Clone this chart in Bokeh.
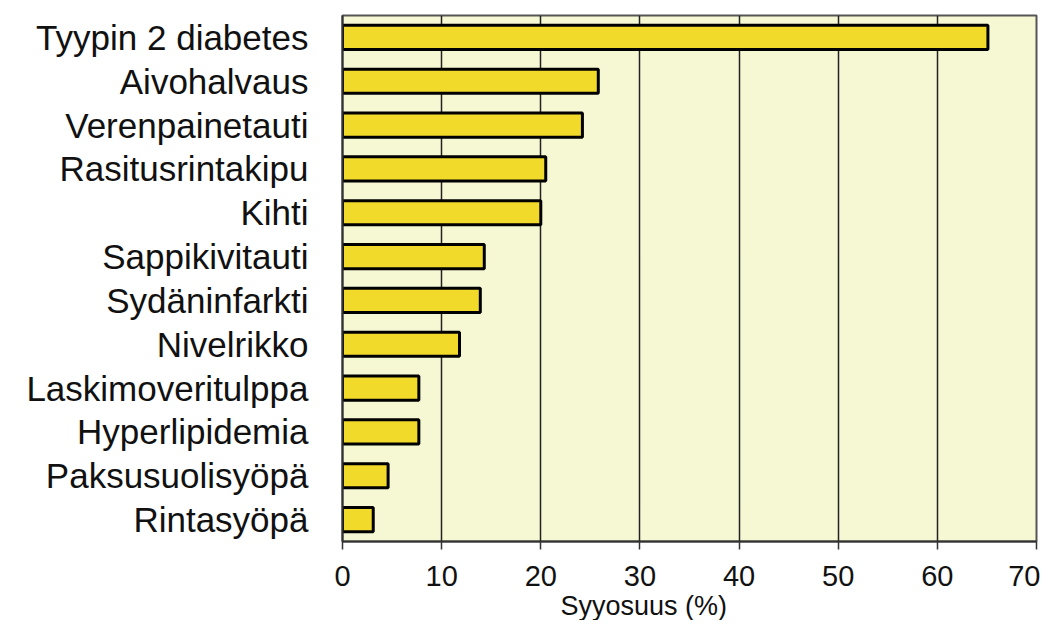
from bokeh.plotting import figure
from bokeh.models import FactorRange, Range1d, FixedTicker, Title
from bokeh.embed import file_html
from bokeh.resources import INLINE

categories = ["Tyypin 2 diabetes", "Aivohalvaus", "Verenpainetauti", "Rasitusrintakipu",
              "Kihti", "Sappikivitauti", "Sydäninfarkti", "Nivelrikko",
              "Laskimoveritulppa", "Hyperlipidemia", "Paksusuolisyöpä", "Rintasyöpä"]
values = [65.1, 25.8, 24.2, 20.5, 20.0, 14.3, 13.9, 11.8, 7.7, 7.7, 4.6, 3.1]
x_ticks = [0, 10, 20, 30, 40, 50, 60, 70]
x_label = "Syyosuus (%)"

FONT = "Liberation Sans"

p = figure(width=1040, height=620, output_backend="svg", toolbar_location=None,
           y_range=FactorRange(factors=list(reversed(categories)), range_padding=0),
           x_range=Range1d(0, 70))
p.min_border_left = 342
p.min_border_right = 4
p.min_border_top = 15
p.min_border_bottom = 73

p.background_fill_color = "#F6F8D3"
p.border_fill_color = "white"
p.outline_line_color = "#555555"
p.outline_line_width = 2

p.hbar(y=categories, right=values, left=0, height=0.55,
       fill_color="#F2DA2A", line_color="black", line_width=3)

p.ygrid.grid_line_color = None
p.xgrid.ticker = FixedTicker(ticks=x_ticks)
p.xgrid.grid_line_color = "#222222"
p.xgrid.grid_line_width = 1.5

p.xaxis.ticker = FixedTicker(ticks=x_ticks)
p.xaxis.minor_tick_line_color = None
p.xaxis.major_tick_out = 8
p.xaxis.major_tick_in = 0
p.xaxis.major_tick_line_color = "#333333"
p.xaxis.major_tick_line_width = 1.5
p.xaxis.axis_line_color = "#333333"
p.xaxis.axis_line_width = 2
p.xaxis.major_label_text_font = FONT
p.xaxis.major_label_text_font_size = "29px"
p.xaxis.major_label_text_color = "#111111"
p.xaxis.major_label_standoff = 16

p.yaxis.major_tick_line_color = None
p.yaxis.major_tick_out = 0
p.yaxis.axis_line_color = "#333333"
p.yaxis.axis_line_width = 2
p.yaxis.major_label_text_font = FONT
p.yaxis.major_label_text_font_size = "35px"
p.yaxis.major_label_text_color = "#111111"
p.yaxis.major_label_standoff = 34

t = Title(text=x_label, align="left", offset=218, standoff=0,
          text_font=FONT, text_font_size="27px", text_font_style="normal",
          text_color="#111111")
p.add_layout(t, "below")

open("out.html", "w").write(file_html(p, INLINE))
